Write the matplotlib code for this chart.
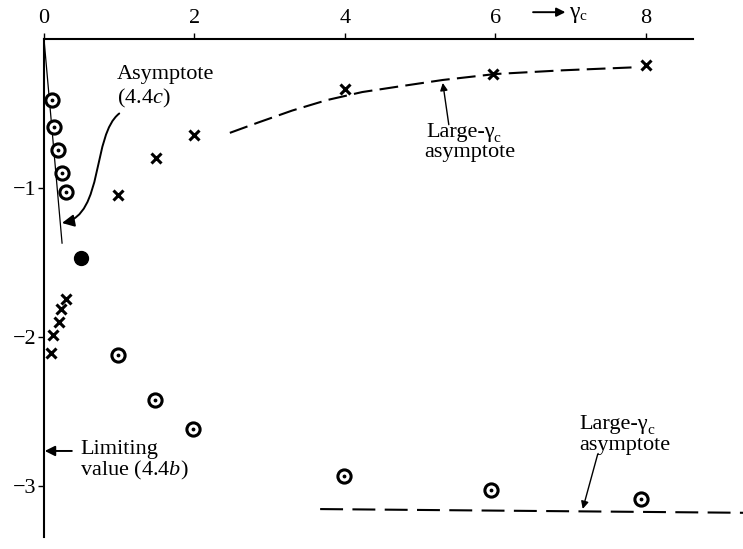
import numpy as np
import matplotlib
matplotlib.use('Agg')
import matplotlib.pyplot as plt
from matplotlib.patches import FancyArrowPatch
from matplotlib.path import Path

plt.rcParams['font.family'] = ['Liberation Serif', 'DejaVu Serif']
plt.rcParams['mathtext.fontset'] = 'custom'
plt.rcParams['mathtext.rm'] = 'Liberation Serif'
plt.rcParams['mathtext.it'] = 'Liberation Serif:italic'

# open circles with a dot in the middle
circ_x = [0.10, 0.13, 0.19, 0.24, 0.29, 0.98, 1.48, 1.98, 3.99, 5.94, 7.93]
circ_y = [-0.41, -0.59, -0.745, -0.90, -1.03, -2.12, -2.42, -2.62, -2.93, -3.03, -3.09]

# crosses
cross_x = [0.09, 0.12, 0.20, 0.23, 0.29, 0.98, 1.49, 2.00, 4.00, 5.97, 8.00]
cross_y = [-2.11, -1.99, -1.90, -1.81, -1.745, -1.05, -0.80, -0.645, -0.335, -0.235, -0.175]

# filled point
fill_x = [0.49]
fill_y = [-1.47]

# large-gamma asymptotes
up_asym_x = [2.47, 2.85, 3.30, 3.76, 4.23, 4.70, 5.30, 6.00, 6.90, 7.85]
up_asym_y = [-0.63, -0.56, -0.48, -0.41, -0.356, -0.32, -0.275, -0.235, -0.21, -0.19]
low_asym_x = [3.67, 9.30]
low_asym_y = [-3.155, -3.18]

# small-gamma asymptote (4.4c)
small_asym_x = [0.0, 0.24]
small_asym_y = [0.0, -1.37]

limiting_value = -2.765

xticks = [0, 2, 4, 6, 8]
yticks = [-1, -2, -3]

fig = plt.figure(figsize=(7.43, 5.49), dpi=100)
ax = fig.add_axes([44/743, 0, 1 - 44/743, 1 - 39/549])
ax.set_xlim(0, 9.29)
ax.set_ylim(-3.423, 0)

for s in ['right', 'bottom']:
    ax.spines[s].set_visible(False)
ax.spines['top'].set_bounds(0, 8.62)
ax.spines['left'].set_bounds(-3.34, 0)
ax.spines['top'].set_linewidth(1.5)
ax.spines['left'].set_linewidth(1.5)

ax.xaxis.tick_top()
ax.set_xticks(xticks)
ax.set_xticklabels(['%d' % v for v in xticks])
ax.set_yticks(yticks)
ax.set_yticklabels(['\u2212%d' % -v for v in yticks])
ax.tick_params(axis='x', direction='out', length=4, width=1, pad=4, labelsize=16)
ax.tick_params(axis='y', direction='out', length=4, width=1, pad=1.5, labelsize=16)

ax.plot(small_asym_x, small_asym_y, color='k', lw=0.9)
ax.plot(up_asym_x, up_asym_y, color='k', lw=1.5, dashes=(9, 3.5))
ax.plot(low_asym_x, low_asym_y, color='k', lw=1.5, dashes=(11, 4.5), clip_on=False)

ax.plot(circ_x, circ_y, 'o', ms=9.5, mfc='white', mec='black', mew=2.2, zorder=3)
ax.plot(circ_x, circ_y, '.', ms=3.5, color='black', zorder=4)
ax.plot(cross_x, cross_y, 'x', ms=7, mew=2.2, color='black', zorder=3)
ax.plot(fill_x, fill_y, 'o', ms=10, color='black', zorder=3)

txt = 16
ax.text(0.97, -0.24, 'Asymptote', fontsize=txt, ha='left', va='center')
ax.text(0.97, -0.40, '(4.4$\\it{c}$)', fontsize=txt, ha='left', va='center')
curve = Path([(1.0, -0.50), (0.638, -0.644), (0.797, -1.181), (0.239, -1.235)],
             [Path.MOVETO, Path.CURVE4, Path.CURVE4, Path.CURVE4])
ax.add_patch(FancyArrowPatch(path=curve, arrowstyle='-|>', mutation_scale=18,
                             lw=1.4, color='k'))

ax.annotate('', xy=(0.01, limiting_value), xytext=(0.37, limiting_value),
            arrowprops=dict(arrowstyle='-|>', lw=1.4, color='k', mutation_scale=15,
                            shrinkA=0, shrinkB=0))
ax.text(0.48, limiting_value + 0.01, 'Limiting', fontsize=txt, ha='left', va='center')
ax.text(0.48, limiting_value - 0.13, 'value (4.4$\\it{b}$)', fontsize=txt,
        ha='left', va='center')

ax.text(5.08, -0.625, 'Large-\u03b3', fontsize=txt, ha='left', va='center')
ax.text(5.06, -0.765, 'asymptote', fontsize=txt, ha='left', va='center')
ax.annotate('', xy=(5.30, -0.295), xytext=(5.38, -0.575),
            arrowprops=dict(arrowstyle='-|>', lw=1.0, color='k', mutation_scale=11,
                            shrinkA=0, shrinkB=0))

ax.text(7.12, -2.585, 'Large-\u03b3', fontsize=txt, ha='left', va='center')
ax.text(7.12, -2.725, 'asymptote', fontsize=txt, ha='left', va='center')
ax.annotate('', xy=(7.16, -3.154), xytext=(7.36, -2.785),
            arrowprops=dict(arrowstyle='-|>', lw=1.0, color='k', mutation_scale=11,
                            shrinkA=0, shrinkB=0))

ax.annotate('', xy=(6.93, 0.18), xytext=(6.50, 0.18), annotation_clip=False,
            arrowprops=dict(arrowstyle='-|>', lw=1.4, color='k', mutation_scale=13,
                            shrinkA=0, shrinkB=0))
ax.text(6.98, 0.18, '\u03b3', fontsize=17, ha='left', va='center', clip_on=False)
ax.text(7.11, 0.15, 'c', fontsize=11, ha='left', va='center', clip_on=False)

# subscripts for the "Large-gamma" labels
ax.text(5.975, -0.665, 'c', fontsize=11, ha='left', va='center')
ax.text(8.015, -2.625, 'c', fontsize=11, ha='left', va='center')

fig.savefig('out.png', dpi=100)
